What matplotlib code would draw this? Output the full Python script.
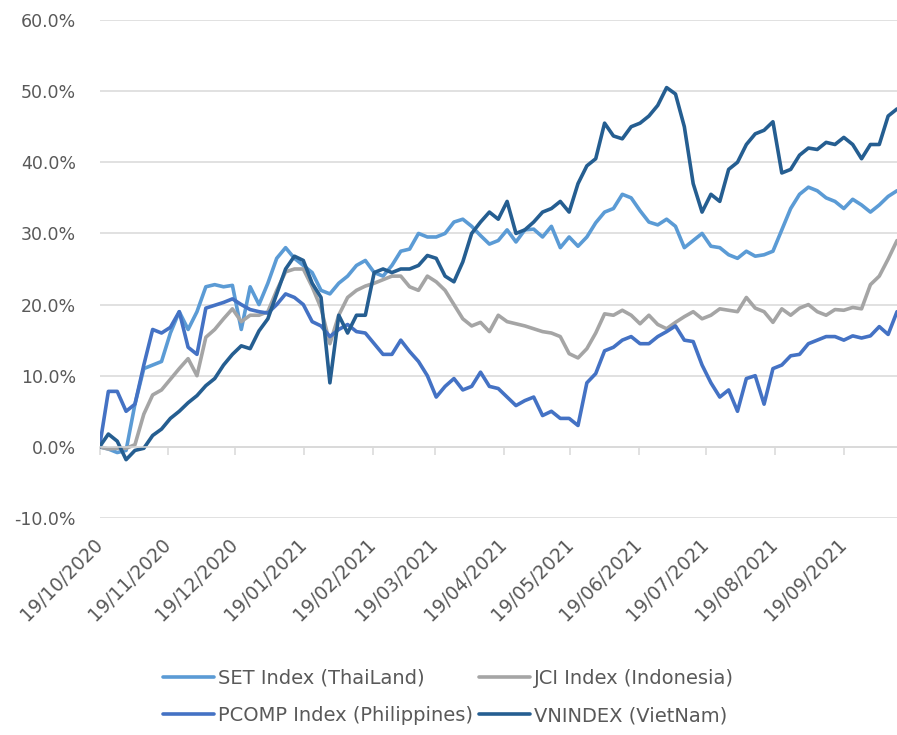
import matplotlib
matplotlib.use("Agg")
import matplotlib.pyplot as plt
import pandas as pd

# ---- data (cumulative return, %) ----
dates = pd.date_range("2020-10-19", "2021-10-13", periods=91)

set_thailand = [0, -0.3, -0.8, -0.5, 6, 11, 11.5, 12, 16, 19,
                16.5, 19, 22.5, 22.8, 22.5, 22.7, 16.5, 22.5, 20, 23,
                26.5, 28, 26.5, 25.5, 24.5, 22, 21.5, 23, 24, 25.5,
                26.2, 24.5, 24, 25.5, 27.5, 27.8, 30, 29.5, 29.5, 30,
                31.6, 32, 31, 29.7, 28.5, 29, 30.5, 28.8, 30.5, 30.6,
                29.5, 31, 28, 29.5, 28.2, 29.5, 31.5, 33, 33.5, 35.5,
                35, 33.2, 31.6, 31.2, 32, 31, 28, 29, 30, 28.2,
                28, 27, 26.5, 27.5, 26.8, 27, 27.5, 30.5, 33.5, 35.5,
                36.5, 36, 35, 34.5, 33.5, 34.8, 34, 33, 34, 35.2, 36]

jci_indonesia = [0, -0.3, -0.2, -0.2, 0.3, 4.6, 7.3, 8, 9.5, 11,
                 12.4, 10, 15.4, 16.5, 18, 19.4, 17.6, 18.5, 18.5, 19,
                 22, 24.6, 25, 25, 22.5, 19.5, 14.5, 18.5, 21, 22,
                 22.6, 23, 23.5, 24, 24, 22.5, 22, 24, 23.2, 22,
                 20, 18, 17, 17.5, 16.2, 18.5, 17.6, 17.3, 17, 16.6,
                 16.2, 16, 15.5, 13.1, 12.5, 13.8, 16, 18.7, 18.5, 19.2,
                 18.5, 17.3, 18.5, 17.2, 16.6, 17.5, 18.3, 19, 18, 18.5,
                 19.4, 19.2, 19, 21, 19.5, 19, 17.5, 19.4, 18.5, 19.5,
                 20, 19, 18.5, 19.3, 19.2, 19.6, 19.4, 22.8, 24, 26.4, 29]

pcomp_philippines = [0, 7.8, 7.8, 5, 6, 11.5, 16.5, 16, 16.8, 19,
                     14, 13, 19.5, 19.9, 20.3, 20.8, 20, 19.3, 19, 18.8,
                     20, 21.5, 21, 20, 17.6, 17, 15.5, 16.5, 17.2, 16.2,
                     16, 14.5, 13, 13, 15, 13.4, 12, 10, 7, 8.5,
                     9.6, 8, 8.5, 10.5, 8.5, 8.2, 7, 5.8, 6.5, 7,
                     4.4, 5, 4, 4, 3, 9, 10.3, 13.5, 14, 15,
                     15.5, 14.5, 14.5, 15.5, 16.2, 17, 15, 14.8, 11.5, 9,
                     7, 8, 5, 9.6, 10, 6, 11, 11.5, 12.8, 13,
                     14.5, 15, 15.5, 15.5, 15, 15.6, 15.3, 15.6, 16.9, 15.8, 19]

vnindex_vietnam = [0, 1.8, 0.8, -1.8, -0.5, -0.2, 1.6, 2.5, 4, 5,
                   6.2, 7.2, 8.6, 9.6, 11.5, 13, 14.2, 13.8, 16.3, 18,
                   21.5, 25, 26.8, 26.2, 23, 21, 9, 18.5, 16, 18.5,
                   18.5, 24.5, 25, 24.5, 25, 25, 25.5, 26.9, 26.5, 24,
                   23.2, 26, 30, 31.6, 33, 32, 34.5, 30, 30.5, 31.6,
                   33, 33.5, 34.5, 33, 37, 39.5, 40.5, 45.5, 43.7, 43.3,
                   45, 45.5, 46.5, 48, 50.5, 49.6, 45, 37, 33, 35.5,
                   34.5, 39, 40, 42.5, 44, 44.5, 45.7, 38.5, 39, 41,
                   42, 41.8, 42.8, 42.5, 43.5, 42.5, 40.5, 42.5, 42.5, 46.5, 47.5]

series_names = ["SET Index (ThaiLand)", "JCI Index (Indonesia)",
                "PCOMP Index (Philippines)", "VNINDEX (VietNam)"]
series_colors = ["#5B9BD5", "#A5A5A5", "#4472C4", "#255E91"]

tick_labels = ["19/10/2020", "19/11/2020", "19/12/2020", "19/01/2021",
               "19/02/2021", "19/03/2021", "19/04/2021", "19/05/2021",
               "19/06/2021", "19/07/2021", "19/08/2021", "19/09/2021"]
y_ticks = [-10, 0, 10, 20, 30, 40, 50, 60]

# ---- figure ----
W, H = 897, 735
fig = plt.figure(figsize=(W / 100, H / 100), dpi=100)
ax = fig.add_axes([99.5 / W, 1 - 518 / H, (W - 99.5) / W, (518 - 20) / H])

text_color = "#595959"
grid_color = "#D9D9D9"

lines = []
for vals, name, col in zip([set_thailand, jci_indonesia, pcomp_philippines, vnindex_vietnam],
                           series_names, series_colors):
    ln, = ax.plot(dates, vals, color=col, lw=2.6, label=name,
                  solid_joinstyle="round", solid_capstyle="round")
    lines.append(ln)

ax.set_ylim(-10, 60)
ax.set_xlim(dates[0], dates[-1])
ax.set_yticks(y_ticks)
ax.set_yticklabels([f"{v:.1f}%" for v in y_ticks])
ax.yaxis.grid(True, color=grid_color, lw=1.1)
ax.set_axisbelow(True)
ax.tick_params(axis="y", length=0, pad=17, labelsize=12.5, labelcolor=text_color)

for s in ["left", "right", "top"]:
    ax.spines[s].set_visible(False)
ax.spines["bottom"].set_position(("data", 0))
ax.spines["bottom"].set_color(grid_color)
ax.spines["bottom"].set_linewidth(1.1)

tick_pos = pd.to_datetime(tick_labels, format="%d/%m/%Y")
ax.set_xticks(tick_pos)
ax.tick_params(axis="x", direction="out", length=6, width=1.1, color=grid_color,
               labelbottom=False)

sec = ax.secondary_xaxis(0)
sec.set_xticks(tick_pos)
sec.set_xticklabels(tick_labels)
sec.tick_params(length=0, pad=17, labelsize=13.5, labelcolor=text_color)
sec.spines["bottom"].set_visible(False)
for lab in sec.get_xticklabels():
    lab.set_rotation(45)
    lab.set_horizontalalignment("right")
    lab.set_verticalalignment("center")
    lab.set_rotation_mode("anchor")

order = [0, 2, 1, 3]
fig.legend([lines[i] for i in order], [series_names[i] for i in order],
           loc="center", bbox_to_anchor=(0.5, 1 - 697 / H), ncol=2,
           frameon=False, fontsize=14, labelcolor=text_color,
           handlelength=2.6, handletextpad=0.2, columnspacing=0.35,
           labelspacing=0.95)

fig.savefig("out.png", dpi=100)
